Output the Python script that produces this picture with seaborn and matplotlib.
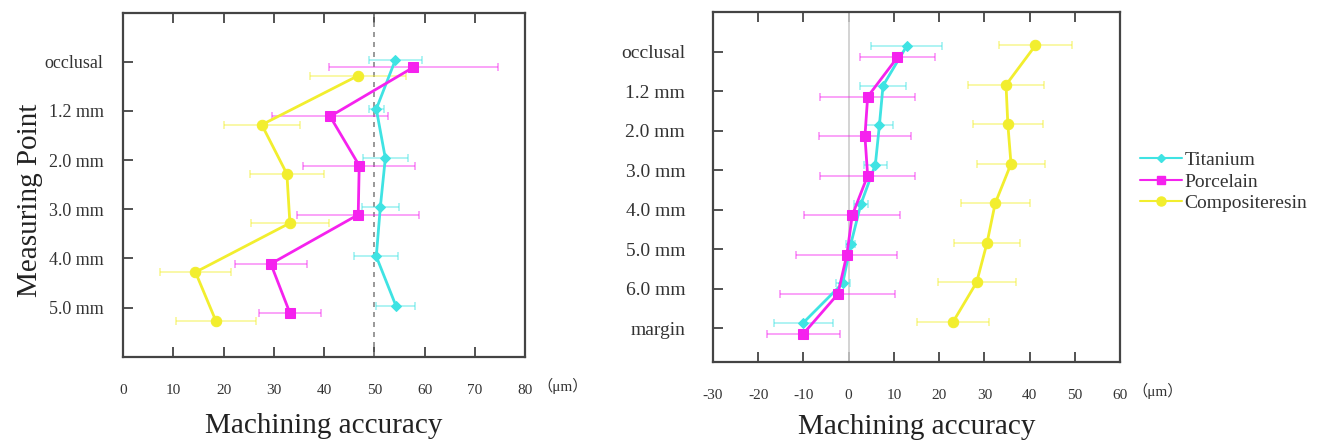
import matplotlib
matplotlib.use("Agg")
import matplotlib.pyplot as plt
from matplotlib.lines import Line2D
import numpy as np
import pandas as pd
import seaborn as sns


# --- data ---

materials = ["Titanium", "Porcelain", "Compositeresin"]

# left panel: six measuring points, x range 0-80 um
left_points = ["occlusal", "1.2 mm", "2.0 mm", "3.0 mm", "4.0 mm", "5.0 mm"]
left_titanium = [54.2, 50.4, 52.2, 51.2, 50.4, 54.3]
left_titanium_sd = [5.3, 1.5, 4.5, 3.7, 4.4, 3.9]
left_porcelain = [57.8, 41.2, 47.0, 46.8, 29.4, 33.2]
left_porcelain_sd = [16.8, 11.5, 11.1, 12.1, 7.2, 6.1]
left_resin = [46.8, 27.6, 32.6, 33.2, 14.4, 18.5]
left_resin_sd = [9.5, 7.6, 7.4, 7.8, 7.1, 8.0]

# right panel: eight measuring points, x range -30-60 um
right_points = ["occlusal", "1.2 mm", "2.0 mm", "3.0 mm", "4.0 mm",
                "5.0 mm", "6.0 mm", "margin"]
right_titanium = [12.8, 7.6, 6.8, 5.9, 2.7, 0.5, -1.3, -10.0]
right_titanium_sd = [7.8, 5.1, 3.0, 2.5, 1.5, 1.0, 1.5, 6.5]
right_porcelain = [10.8, 4.2, 3.6, 4.2, 0.8, -0.4, -2.4, -10.0]
right_porcelain_sd = [8.3, 10.5, 10.1, 10.5, 10.6, 11.2, 12.7, 8.1]
right_resin = [41.3, 34.8, 35.2, 35.9, 32.4, 30.6, 28.3, 23.1]
right_resin_sd = [8.1, 8.4, 7.7, 7.5, 7.6, 7.3, 8.6, 7.9]

left_xticks = [0, 10, 20, 30, 40, 50, 60, 70, 80]
right_xticks = [-30, -20, -10, 0, 10, 20, 30, 40, 50, 60]


# --- styling ---

palette = {"Titanium": "#3fe3e3", "Porcelain": "#f522ee", "Compositeresin": "#f2ee2e"}
marker_map = {"Titanium": "D", "Porcelain": "s", "Compositeresin": "o"}
marker_size = {"Titanium": 5.5, "Porcelain": 7, "Compositeresin": 7.5}
text_color = "#333333"

sns.set_style("white")
plt.rcParams["font.family"] = ["Liberation Serif", "DejaVu Serif", "Noto Sans CJK JP"]
plt.rcParams["axes.unicode_minus"] = False


def build_frame(points, series, offsets):
    """Long table: one row per material and measuring point."""
    rows = []
    for mat, (vals, sds) in zip(materials, series):
        for i, (v, s) in enumerate(zip(vals, sds)):
            rows.append({"material": mat, "point": points[i],
                         "ypos": i + offsets[mat], "value": v, "sd": s})
    return pd.DataFrame(rows)


def draw_panel(ax, df, points, xticks, ref_line):
    # error bars first so the lines sit on top
    for mat in materials:
        sub = df[df["material"] == mat]
        ax.errorbar(sub["value"], sub["ypos"], xerr=sub["sd"], fmt="none",
                    ecolor=palette[mat], alpha=0.45, elinewidth=1.3,
                    capsize=3, capthick=1.3, zorder=2)

    for mat in materials:
        sub = df[df["material"] == mat]
        sns.lineplot(data=sub, x="value", y="ypos", orient="y", estimator=None,
                     color=palette[mat], marker=marker_map[mat],
                     markersize=marker_size[mat], markeredgecolor=palette[mat],
                     linewidth=2, ax=ax, zorder=3, legend=False)

    ax.axvline(**ref_line)

    ax.set_xlim(xticks[0], xticks[-1])
    ax.set_xticks(xticks)
    ax.set_yticks(range(len(points)))
    ax.set_yticklabels(points)
    ax.set_ylabel("")
    ax.set_xlabel("Machining accuracy", fontsize=21, color="#222222")

    for side in ["left", "right", "top", "bottom"]:
        ax.spines[side].set_color("#444444")
        ax.spines[side].set_linewidth(1.6)
    ax.tick_params(axis="both", direction="in", length=7, width=1.3,
                   color="#444444", labelcolor=text_color)
    ax.tick_params(axis="x", top=True, bottom=True, labelsize=11, pad=20)
    ax.tick_params(axis="y", left=True, right=False)
    ax.text(1.03, -0.085, "（μm）", transform=ax.transAxes, fontsize=11,
            color=text_color, va="center", ha="left")


fig = plt.figure(figsize=(13.27, 4.44), dpi=100)
ax_left = fig.add_axes([0.0928, 0.1966, 0.3028, 0.7748])
ax_right = fig.add_axes([0.5373, 0.1854, 0.3067, 0.7870])

left_df = build_frame(
    left_points,
    [(left_titanium, left_titanium_sd), (left_porcelain, left_porcelain_sd),
     (left_resin, left_resin_sd)],
    {"Titanium": -0.04, "Porcelain": 0.11, "Compositeresin": 0.28},
)
right_df = build_frame(
    right_points,
    [(right_titanium, right_titanium_sd), (right_porcelain, right_porcelain_sd),
     (right_resin, right_resin_sd)],
    {"Titanium": -0.14, "Porcelain": 0.14, "Compositeresin": -0.16},
)

draw_panel(ax_left, left_df, left_points, left_xticks,
           dict(x=50, color="#888888", linestyle=(0, (3, 3)), linewidth=1.2, zorder=1))
ax_left.set_ylim(6, -1)
ax_left.tick_params(axis="y", labelsize=13, pad=14)
ax_left.xaxis.set_label_coords(0.5, -0.165)

draw_panel(ax_right, right_df, right_points, right_xticks,
           dict(x=0, color="#cccccc", linestyle="-", linewidth=1.2, zorder=1))
ax_right.set_ylim(7.85, -1)
ax_right.tick_params(axis="y", labelsize=14, pad=20)
ax_right.xaxis.set_label_coords(0.5, -0.15)

fig.text(30 / 1327, 1 - 200 / 444, "Measuring Point", rotation=90,
         ha="center", va="center", fontsize=21, color="#222222")

handles = [Line2D([0], [0], color=palette[m], marker=marker_map[m],
                  markersize=marker_size[m] - 1, linewidth=1.5) for m in materials]
fig.legend(handles, materials, loc="upper left",
           bbox_to_anchor=(1122 / 1327, 1 - 134 / 444), frameon=False,
           fontsize=14, handlelength=2.2, handletextpad=0.1, labelspacing=0.2,
           labelcolor=text_color)

fig.savefig("out.png", dpi=100)
